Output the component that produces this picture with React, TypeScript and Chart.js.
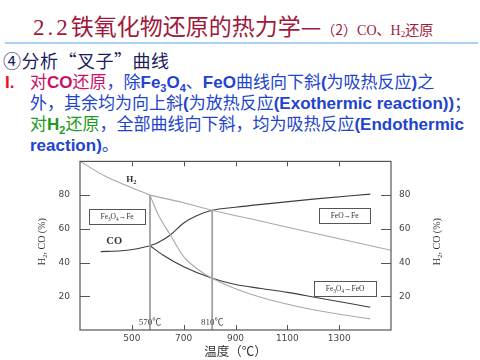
import React, { useEffect, useRef } from "react";
import { Chart, registerables } from "chart.js";

Chart.register(...registerables);

// ---- data ----
const xTickValues = [500, 700, 900, 1100, 1300];
const yTickValues = [20, 40, 60, 80];

const h2Fe3O4FeT = [300, 400, 470, 570];
const h2Fe3O4FeV = [100, 91, 86.3, 80];
const h2FeOFeT = [570, 700, 810, 1000, 1200, 1500];
const h2FeOFeV = [80, 75.5, 71, 64.5, 57.5, 47.3];
const h2Fe3O4FeOT = [570, 600, 650, 700, 750, 810, 900, 1000, 1200, 1420];
const h2Fe3O4FeOV = [80, 69, 56, 43.5, 36.5, 30.7, 24.5, 19.3, 12, 6.6];

const coFe3O4FeT = [380, 460, 520, 570];
const coFe3O4FeV = [46.5, 47, 48.2, 50];
const coFeOFeT = [570, 600, 650, 700, 750, 810, 900, 1000, 1200, 1420];
const coFeOFeV = [50, 51.8, 56.5, 63.5, 67.8, 71, 72.8, 74.5, 77.6, 80.6];
const coFe3O4FeOT = [570, 620, 700, 810, 900, 1000, 1100, 1200, 1420];
const coFe3O4FeOV = [50, 44.5, 37.5, 30.7, 27, 24.6, 22.3, 19.6, 13.5];

const transitionTemps = [570, 810];
const transitionTops = [80, 71];
const transitionLabels = ["570℃", "810℃"];

// ---- styles ----
const SERIF = '"Liberation Serif", "Noto Sans CJK SC", serif';
const SANS = '"Liberation Sans", "Noto Sans CJK SC", sans-serif';
const CJK = '"Noto Sans CJK SC", sans-serif';
const crimson = "#A0193C";
const blue = "#2244CC";
const magenta = "#CC1166";
const green = "#229922";
const axisColor = "#555";
const h2Color = "#a8a8a8";
const coColor = "#3c3c3c";

type Seg = [string, boolean];

const h2Label: Seg[] = [["H", false], ["2", true]];
const coLabel: Seg[] = [["CO", false]];
const box1: Seg[] = [["Fe", false], ["3", true], ["O", false], ["4", true], ["→Fe", false]];
const box2: Seg[] = [["FeO→Fe", false]];
const box3: Seg[] = [["Fe", false], ["3", true], ["O", false], ["4", true], ["→FeO", false]];
const yTitle: Seg[] = [["H", false], ["2", true], [", CO (%)", false]];

const pts = (t: number[], v: number[]) => t.map((x, i) => ({ x, y: v[i] }));

function segWidth(ctx: CanvasRenderingContext2D, segs: Seg[], size: number, weight: string) {
  let w = 0;
  for (const [t, sub] of segs) {
    ctx.font = `${weight} ${sub ? size * 0.7 : size}px ${SERIF}`;
    w += ctx.measureText(t).width;
  }
  return w;
}

function drawSegs(
  ctx: CanvasRenderingContext2D,
  segs: Seg[],
  cx: number,
  baseline: number,
  size: number,
  weight: string,
  color: string
) {
  const total = segWidth(ctx, segs, size, weight);
  let x = cx - total / 2;
  ctx.fillStyle = color;
  ctx.textAlign = "left";
  ctx.textBaseline = "alphabetic";
  for (const [t, sub] of segs) {
    ctx.font = `${weight} ${sub ? size * 0.7 : size}px ${SERIF}`;
    ctx.fillText(t, x, sub ? baseline + size * 0.22 : baseline);
    x += ctx.measureText(t).width;
  }
}

const decorPlugin = {
  id: "decor",
  afterDatasetsDraw(chart: any) {
    const { ctx, chartArea } = chart;
    const { left, right, top, bottom } = chartArea;
    const xs = chart.scales.x;
    const ys = chart.scales.y;
    ctx.save();
    // frame
    ctx.strokeStyle = axisColor;
    ctx.lineWidth = 1.2;
    ctx.strokeRect(left, top, right - left, bottom - top);
    // inward ticks
    ctx.lineWidth = 1;
    ctx.beginPath();
    for (const v of xTickValues) {
      const px = Math.round(xs.getPixelForValue(v)) + 0.5;
      ctx.moveTo(px, bottom);
      ctx.lineTo(px, bottom - 5);
      ctx.moveTo(px, top);
      ctx.lineTo(px, top + 5);
    }
    for (const v of yTickValues) {
      const py = Math.round(ys.getPixelForValue(v)) + 0.5;
      ctx.moveTo(left, py);
      ctx.lineTo(left + 10, py);
      ctx.moveTo(right, py);
      ctx.lineTo(right - 10, py);
    }
    ctx.stroke();

    // transition labels
    ctx.font = `9px ${SERIF}`;
    ctx.fillStyle = "#444";
    ctx.textAlign = "center";
    ctx.textBaseline = "middle";
    transitionTemps.forEach((t, i) => {
      ctx.fillText(transitionLabels[i], xs.getPixelForValue(t), ys.getPixelForValue(4.4));
    });

    // curve labels
    drawSegs(ctx, h2Label, xs.getPixelForValue(498), ys.getPixelForValue(89.7) + 3.5, 9, "bold", "#333");
    drawSegs(ctx, coLabel, xs.getPixelForValue(432), ys.getPixelForValue(53) + 3.5, 10.5, "bold", "#333");

    // boxes
    const boxes: [Seg[], number, number, number][] = [
      [box1, 443, 67.4, 56],
      [box2, 1321, 67.7, 51],
      [box3, 1323, 24.4, 62],
    ];
    for (const [segs, t, v, w] of boxes) {
      const cx = xs.getPixelForValue(t);
      const cy = ys.getPixelForValue(v);
      const h = 15;
      ctx.fillStyle = "#fff";
      ctx.fillRect(cx - w / 2, cy - h / 2, w, h);
      ctx.strokeStyle = "#555";
      ctx.lineWidth = 1;
      ctx.strokeRect(Math.round(cx - w / 2) + 0.5, Math.round(cy - h / 2) + 0.5, w, h);
      drawSegs(ctx, segs, cx, cy + 2.5, 7.5, "normal", "#333");
    }

    // axis titles
    const midY = (top + bottom) / 2 - 4;
    ctx.save();
    ctx.translate(left - 35, midY);
    ctx.rotate(-Math.PI / 2);
    drawSegs(ctx, yTitle, 0, 0, 10, "normal", "#333");
    ctx.restore();
    ctx.save();
    ctx.translate(right + 49, midY);
    ctx.rotate(-Math.PI / 2);
    drawSegs(ctx, yTitle, 0, 0, 10, "normal", "#333");
    ctx.restore();

    ctx.font = `12.5px ${CJK}`;
    ctx.fillStyle = "#333";
    ctx.textAlign = "center";
    ctx.textBaseline = "middle";
    ctx.fillText("温度（℃）", (left + right) / 2, bottom + 21.5);
    ctx.restore();
  },
};

function ChartPanel() {
  const ref = useRef<HTMLCanvasElement | null>(null);
  useEffect(() => {
    if (!ref.current) return;
    const lineDs = (data: any[], color: string, width: number) => ({
      data,
      borderColor: color,
      borderWidth: width,
      pointRadius: 0,
      fill: false,
      cubicInterpolationMode: "monotone" as const,
    });
    const datasets: any[] = [
      ...transitionTemps.map((t, i) =>
        lineDs(pts([t, t], [0, transitionTops[i]]), "#a0a0a0", 1.8)
      ),
      lineDs(pts(h2Fe3O4FeT, h2Fe3O4FeV), h2Color, 1.1),
      lineDs(pts(h2FeOFeT, h2FeOFeV), h2Color, 1.1),
      lineDs(pts(h2Fe3O4FeOT, h2Fe3O4FeOV), h2Color, 1.1),
      lineDs(pts(coFe3O4FeT, coFe3O4FeV), coColor, 1.1),
      lineDs(pts(coFeOFeT, coFeOFeV), coColor, 1.1),
      lineDs(pts(coFe3O4FeOT, coFe3O4FeOV), coColor, 1.1),
    ];
    const tickFont = { family: '"DejaVu Sans", sans-serif', size: 9 };
    const plain = (v: any) => String(v);
    const yScale = (pos: "left" | "right", width: number, pad: number) => ({
      type: "linear" as const,
      position: pos,
      display: true,
      min: 0,
      max: 100,
      afterBuildTicks: (s: any) => {
        s.ticks = yTickValues.map((v) => ({ value: v }));
      },
      afterFit: (s: any) => {
        s.width = width;
      },
      grid: { display: false, drawTicks: false },
      border: { display: false },
      ticks: { padding: pad, color: "#444", font: tickFont, autoSkip: false, callback: plain },
    });
    const chart = new Chart(ref.current, {
      type: "line",
      data: { datasets },
      options: {
        responsive: false,
        animation: false,
        layout: { padding: { top: 10, left: 0, right: 0, bottom: 0 } },
        plugins: { legend: { display: false }, tooltip: { enabled: false } },
        scales: {
          x: {
            type: "linear",
            min: 300,
            max: 1500,
            afterBuildTicks: (s: any) => {
              s.ticks = xTickValues.map((v) => ({ value: v }));
            },
            afterFit: (s: any) => {
              s.height = 30;
            },
            grid: { display: false, drawTicks: false },
            border: { display: false },
            ticks: {
              padding: 3,
              color: "#444",
              font: tickFont,
              autoSkip: false,
              maxRotation: 0,
              callback: plain,
            },
          },
          y: yScale("left", 50, 10),
          y2: yScale("right", 89, 8),
        },
      },
      plugins: [decorPlugin],
    });
    return () => chart.destroy();
  }, []);
  return (
    <canvas
      ref={ref}
      width={450}
      height={214}
      style={{ position: "absolute", left: 30, top: 146, width: 450, height: 214, display: "block" }}
    />
  );
}

const B = ({ children }: { children: React.ReactNode }) => (
  <span style={{ fontWeight: "bold" }}>{children}</span>
);
const Sub = ({ children }: { children: React.ReactNode }) => (
  <sub style={{ fontSize: 11, verticalAlign: "-4px", lineHeight: 0, fontWeight: "bold" }}>{children}</sub>
);

export default function App() {
  const lineStyle = (top: number, left = 30): React.CSSProperties => ({
    position: "absolute",
    left,
    top,
    fontSize: 17,
    lineHeight: "21px",
    fontFamily: SANS,
    color: blue,
    whiteSpace: "nowrap",
  });
  return (
    <div
      style={{
        position: "fixed",
        left: 0,
        top: 0,
        width: 480,
        height: 360,
        background: "#fff",
        overflow: "hidden",
      }}
    >
      <div
        style={{
          position: "absolute",
          left: 33,
          top: 14,
          fontSize: 23,
          lineHeight: "23px",
          color: crimson,
          fontFamily: CJK,
          whiteSpace: "nowrap",
        }}
      >
        <span style={{ fontFamily: SERIF, letterSpacing: 3 }}>2.2</span>
        铁氧化物还原的热力学—
        <span style={{ fontSize: 14 }}>
          （2）<span style={{ fontFamily: SERIF }}>CO</span>、
          <span style={{ fontFamily: SERIF }}>
            H<sub style={{ fontSize: 9, verticalAlign: "-2px", lineHeight: 0 }}>2</sub>
          </span>
          还原
        </span>
      </div>
      <div
        style={{
          position: "absolute",
          left: 5,
          top: 42,
          width: 473,
          height: 2,
          background: "#A8D0F5",
        }}
      />
      <div
        style={{
          position: "absolute",
          left: 3,
          top: 51,
          fontSize: 18,
          lineHeight: "18px",
          letterSpacing: 0.5,
          color: "#1C1C5C",
          fontFamily: CJK,
          whiteSpace: "nowrap",
          fontFeatureSettings: '"fwid"',
        }}
      >
        ④分析“叉子”曲线
      </div>
      <div style={{ ...lineStyle(72, 5), color: "#E8141E", fontWeight: "bold" }}>I.</div>
      <div style={lineStyle(72)}>
        <span style={{ color: magenta }}>
          对<B>CO</B>还原
        </span>
        ，除<B>Fe</B>
        <Sub>3</Sub>
        <B>O</B>
        <Sub>4</Sub>、<B>FeO</B>曲线向下斜<B>(</B>为吸热反应<B>)</B>之
      </div>
      <div style={lineStyle(93)}>
        外，其余均为向上斜<B>(</B>为放热反应<B>(Exothermic reaction))</B>；
      </div>
      <div style={lineStyle(114)}>
        <span style={{ color: green }}>
          对<B>H</B>
          <Sub>2</Sub>还原
        </span>
        ，全部曲线向下斜，均为吸热反应<B>(Endothermic</B>
      </div>
      <div style={lineStyle(135)}>
        <B>reaction)</B>。
      </div>
      <ChartPanel />
    </div>
  );
}
